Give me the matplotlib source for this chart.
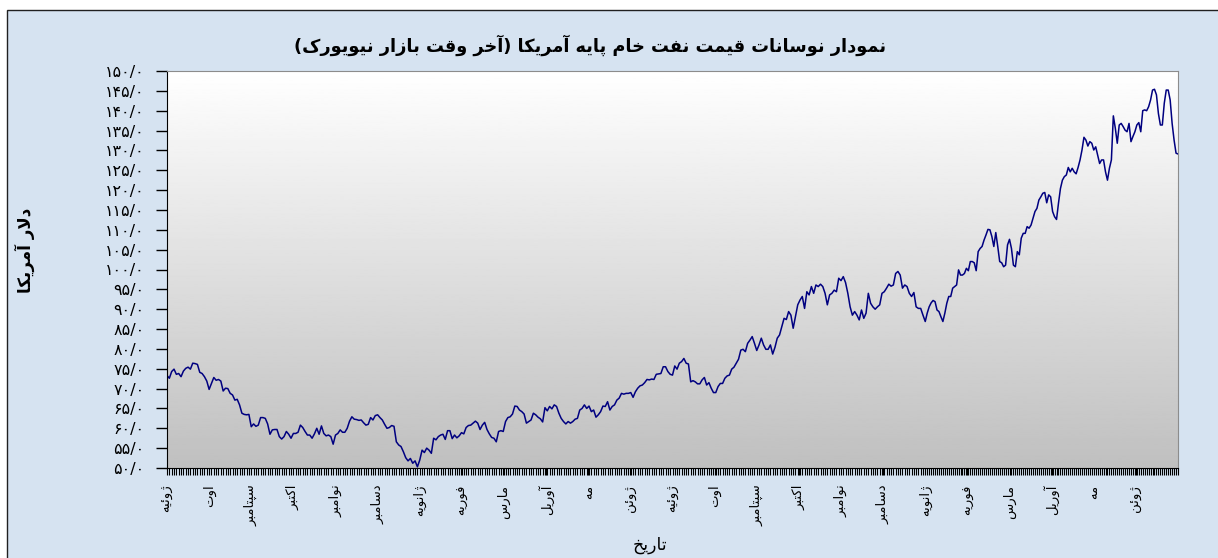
import numpy as np
import matplotlib.pyplot as plt
from matplotlib.patches import Rectangle
from matplotlib.ticker import FixedLocator

# closing price (USD), one block per half year
price_h2_2006 = [73.3, 72.6, 74.3, 74.9, 73.6, 73.8, 73.0, 74.4, 75.1, 75.4, 74.9, 76.4, 76.3, 76.1, 74.1,
                 73.8, 73.0, 71.9, 69.8, 71.3, 72.8, 72.1, 72.3, 71.9, 69.4, 70.1, 70.0, 68.8, 68.4, 67.1,
                 67.3, 65.9, 63.8, 63.5, 63.4, 63.5, 60.4, 61.1, 60.5, 60.8, 62.7, 62.7, 62.5, 61.1, 58.5,
                 59.6, 59.7, 59.7, 57.9, 57.3, 57.9, 59.2, 58.5, 57.5, 58.7, 58.7, 59.0, 60.8, 60.2, 59.2,
                 58.3, 58.3, 57.5, 58.6, 60.0, 58.5, 60.6, 58.7, 58.1, 58.3, 57.9, 56.0, 58.3, 58.7, 59.6,
                 59.0, 59.0, 60.0, 61.8, 62.9, 62.3, 62.2, 62.0, 62.1, 61.4, 60.8, 61.0, 62.7, 62.1, 63.2,
                 63.4, 62.7, 62.1, 61.0, 60.0, 60.2, 60.7, 60.5, 56.6, 55.8, 55.4, 54.1, 52.6, 51.8, 52.4,
                 51.2, 51.8, 50.3]
price_h1_2007 = [52.0, 54.5, 53.9, 55.0, 54.5, 53.7, 57.5, 57.1, 57.9, 58.3, 58.5, 57.2, 59.4, 59.4, 57.4,
                 58.3, 57.6, 58.1, 58.9, 58.6, 60.2, 60.7, 60.8, 61.3, 61.8, 61.3, 59.7, 60.8, 61.5, 59.7,
                 58.6, 57.7, 57.5, 56.6, 59.2, 59.4, 59.2, 61.7, 62.7, 62.9, 63.6, 65.6, 65.5, 64.6, 64.2,
                 63.6, 61.3, 61.7, 62.1, 63.8, 63.4, 62.8, 62.4, 61.6, 65.2, 64.4, 65.5, 64.9, 65.9, 65.5,
                 63.8, 62.5, 61.7, 61.1, 61.7, 61.3, 61.7, 62.3, 62.5, 64.6, 65.0, 65.9, 65.0, 65.6, 64.2,
                 64.6, 62.8, 63.4, 64.2, 65.6, 65.5, 66.7, 64.6, 65.5, 65.9, 67.1, 67.6, 68.8, 68.6, 68.8,
                 68.8, 69.0, 67.8, 69.2, 70.1, 70.7, 70.9, 71.5, 72.3, 72.2, 72.4, 72.3, 73.6, 73.7, 73.8,
                 75.5, 75.5, 74.3, 73.6]
price_h2_2007 = [73.4, 75.7, 74.9, 76.4, 76.8, 77.6, 76.4, 76.2, 71.7, 72.0, 71.7, 71.2, 71.2, 72.2, 72.8,
                 70.9, 71.5, 70.1, 69.0, 69.0, 70.5, 71.3, 71.3, 72.6, 73.2, 73.4, 74.9, 75.4, 76.4, 77.4,
                 79.7, 79.9, 79.3, 81.4, 82.2, 83.1, 81.4, 79.6, 81.0, 82.7, 81.0, 79.9, 79.9, 81.0, 78.7,
                 80.4, 82.7, 83.5, 85.6, 87.7, 87.4, 89.4, 88.5, 85.2, 88.1, 91.1, 92.3, 93.2, 90.2, 94.4,
                 93.6, 95.7, 94.0, 96.1, 95.7, 96.3, 95.7, 94.0, 91.1, 93.6, 94.0, 94.8, 94.4, 97.8, 97.2,
                 98.2, 96.7, 94.0, 90.6, 88.5, 89.4, 88.5, 87.3, 89.8, 87.7, 89.0, 94.0, 91.5, 90.6, 90.0,
                 90.6, 91.1, 94.0, 94.4, 95.3, 96.3, 95.8, 96.1, 99.0, 99.5, 98.6, 95.3, 96.1, 95.7, 94.0,
                 93.2, 94.2, 90.6, 90.2, 90.2, 88.5]
price_h1_2008 = [86.9, 89.0, 90.6, 91.6, 92.2, 91.9, 89.8, 89.4, 88.1, 86.9, 89.0, 91.5, 93.2, 93.2, 95.3,
                 95.7, 96.1, 99.9, 98.6, 98.6, 99.0, 100.3, 99.7, 102.0, 102.0, 101.7, 99.7, 104.5, 105.3,
                 105.8, 107.4, 108.7, 110.1, 110.0, 108.3, 105.8, 109.3, 105.8, 102.0, 101.7, 100.7, 101.1,
                 106.2, 107.6, 105.3, 101.1, 100.7, 104.5, 103.7, 107.9, 109.1, 109.1, 110.8, 110.4, 111.2,
                 112.9, 114.6, 115.4, 117.5, 118.3, 119.2, 119.4, 116.8, 118.8, 118.3, 114.6, 113.3, 112.6,
                 116.7, 120.4, 122.5, 123.4, 123.8, 125.7, 124.6, 125.5, 124.6, 124.1, 125.7, 127.6, 130.1,
                 133.3, 132.6, 131.1, 132.2, 131.8, 130.1, 130.9, 128.8, 126.7, 127.6, 127.6, 124.6, 122.5,
                 125.5, 127.6, 138.7, 135.6, 131.8, 136.4, 136.8, 136.0, 135.1, 134.7, 136.8, 132.2, 133.5,
                 134.7, 136.4, 137.0, 134.7, 140.0, 140.2, 140.0, 141.0, 142.7, 145.2, 145.4, 144.0, 139.3,
                 136.4, 136.4, 141.9, 145.2, 145.2, 142.7, 136.8, 132.6, 129.3, 129.1]

month_names = ['ژوئیه', 'اوت', 'سپتامبر', 'اکتبر', 'نوامبر', 'دسامبر',
               'ژانویه', 'فوریه', 'مارس', 'آوریل', 'مه', 'ژوئن'] * 2
y_ticks = list(range(50, 155, 5))

title = 'نمودار نوسانات قیمت نفت خام پایه آمریکا (آخر وقت بازار نیویورک)'
x_title = 'تاریخ'
y_title = 'دلار آمریکا'

# matplotlib does no arabic shaping, so build presentation forms by hand
_FORMS = {  # isolated, final, initial, medial
    'آ': (0xFE81, 0xFE82, None, None), 'ئ': (0xFE89, 0xFE8A, 0xFE8B, 0xFE8C),
    'ا': (0xFE8D, 0xFE8E, None, None), 'ب': (0xFE8F, 0xFE90, 0xFE91, 0xFE92),
    'ت': (0xFE95, 0xFE96, 0xFE97, 0xFE98), 'خ': (0xFEA5, 0xFEA6, 0xFEA7, 0xFEA8),
    'د': (0xFEA9, 0xFEAA, None, None), 'ر': (0xFEAD, 0xFEAE, None, None),
    'ز': (0xFEAF, 0xFEB0, None, None), 'س': (0xFEB1, 0xFEB2, 0xFEB3, 0xFEB4),
    'ف': (0xFED1, 0xFED2, 0xFED3, 0xFED4), 'ق': (0xFED5, 0xFED6, 0xFED7, 0xFED8),
    'ل': (0xFEDD, 0xFEDE, 0xFEDF, 0xFEE0), 'م': (0xFEE1, 0xFEE2, 0xFEE3, 0xFEE4),
    'ن': (0xFEE5, 0xFEE6, 0xFEE7, 0xFEE8), 'ه': (0xFEE9, 0xFEEA, 0xFEEB, 0xFEEC),
    'و': (0xFEED, 0xFEEE, None, None), 'پ': (0xFB56, 0xFB57, 0xFB58, 0xFB59),
    'ژ': (0xFB8A, 0xFB8B, None, None), 'ک': (0xFB8E, 0xFB8F, 0xFB90, 0xFB91),
    'ی': (0xFBFC, 0xFBFD, 0xFBFE, 0xFBFF),
}
_LAM_ALEF = {'ا': (0xFEFB, 0xFEFC), 'آ': (0xFEF5, 0xFEF6)}


def _joins_next(ch):
    return ch in _FORMS and _FORMS[ch][2] is not None


def farsi(text):
    out = []
    i = 0
    while i < len(text):
        ch = text[i]
        if ch not in _FORMS:
            out.append({'(': ')', ')': '('}.get(ch, ch))
            i += 1
            continue
        jp = i > 0 and _joins_next(text[i - 1])
        nxt = text[i + 1] if i + 1 < len(text) else ''
        if ch == 'ل' and nxt in _LAM_ALEF:
            out.append(chr(_LAM_ALEF[nxt][1] if jp else _LAM_ALEF[nxt][0]))
            i += 2
            continue
        jn = _joins_next(ch) and nxt in _FORMS
        iso, fin, ini, med = _FORMS[ch]
        out.append(chr(med if jp and jn else fin if jp else ini if jn else iso))
        i += 1
    return ''.join(reversed(out))


fa_digits = str.maketrans('0123456789', '۰۱۲۳۴۵۶۷۸۹')

# x in months from start of July 2006, points evenly spread within each half year
blocks = [price_h2_2006, price_h1_2007, price_h2_2007, price_h1_2008]
xs = [np.linspace(6 * k, 6 * (k + 1), len(b), endpoint=(k == 3)) for k, b in enumerate(blocks)]
x = np.concatenate(xs)
price = np.concatenate(blocks)

fig = plt.figure(figsize=(12.18, 5.58), dpi=100)
fig.patch.set_facecolor('white')
fig.patches.append(Rectangle((7 / 1218, -0.01), 1.02, 1 - 10 / 558 + 0.01, transform=fig.transFigure,
                             facecolor='#d6e3f1', edgecolor='#202020', linewidth=1, zorder=-1))

ax = fig.add_axes([167 / 1218, 1 - 468 / 558, 1011 / 1218, 397 / 558])
ax.imshow(np.linspace(1.0, 0.75, 256).reshape(-1, 1), cmap='gray', vmin=0, vmax=1,
          extent=[0, 1, 0, 1], transform=ax.transAxes, aspect='auto', zorder=0)
ax.plot(x, price, color='#000080', linewidth=1.1, zorder=2)

ax.set_xlim(0, 24)
ax.set_ylim(50, 150)
ax.set_yticks(y_ticks)
ax.set_yticklabels([f'{v}/0'.translate(fa_digits) for v in y_ticks], fontsize=11.5)
ax.set_xticks(np.arange(24))
ax.set_xticklabels([farsi(m) for m in month_names], rotation=90, fontsize=9.5, va='top')
ax.xaxis.set_minor_locator(FixedLocator(x))
ax.tick_params(axis='y', direction='out', length=8, width=1, pad=8)
ax.tick_params(axis='x', which='both', direction='out', length=5, width=0.8, pad=7)

for side in ('left', 'bottom'):
    ax.spines[side].set_color('black')
for side in ('top', 'right'):
    ax.spines[side].set_color('#8c8c8c')

fig.text(590 / 1218, 1 - 45 / 558, farsi(title), ha='center', va='center', fontsize=12.8, fontweight='bold')
fig.text(650 / 1218, 1 - 545 / 558, farsi(x_title), ha='center', va='center', fontsize=12.5)
fig.text(25 / 1218, 1 - 250 / 558, farsi(y_title), ha='center', va='center', rotation=90,
         fontsize=12, fontweight='bold')

fig.savefig('out.png', dpi=100, facecolor=fig.get_facecolor())
